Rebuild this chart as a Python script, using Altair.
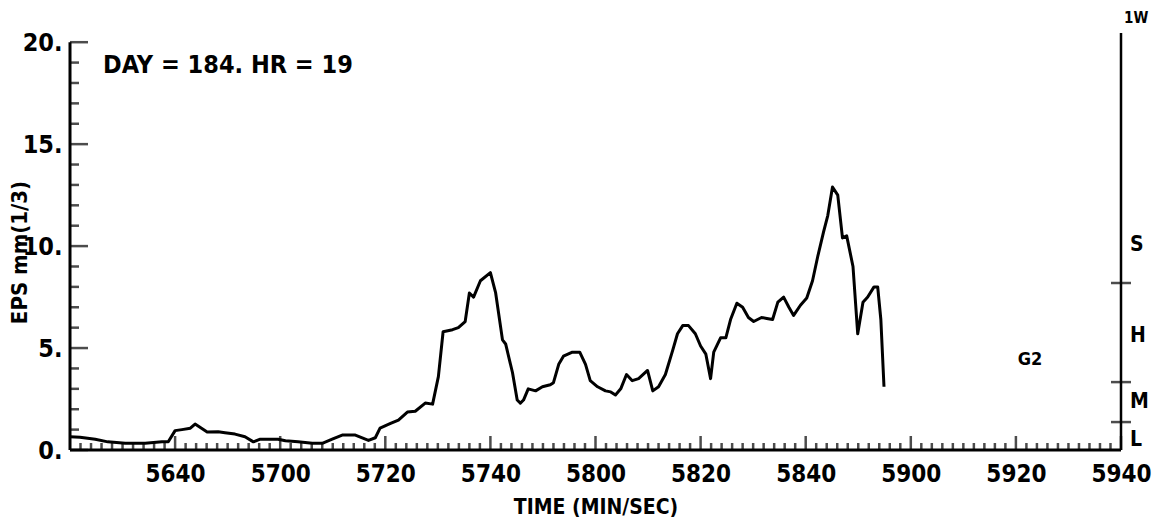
import altair as alt
import pandas as pd

# Time in seconds of the hour (56:20 -> 3380 s), EPS values
time_s = [3380.0, 3381.9, 3384.8, 3387.2, 3390.5, 3394.3, 3397.5, 3398.7, 3400.0, 3401.3,
          3402.9, 3403.8, 3406.1, 3408.2, 3409.5, 3411.4, 3413.3, 3414.9, 3416.2, 3419.6,
          3421.0, 3423.4, 3426.1, 3428.0, 3429.9, 3431.8, 3434.3, 3436.8, 3438.1, 3439.0,
          3441.0, 3442.5, 3444.2, 3445.7, 3447.6, 3449.0, 3450.1, 3451.0, 3452.8, 3453.9,
          3455.2, 3456.0, 3456.8, 3458.1, 3460.0, 3461.0, 3462.3, 3462.9, 3464.2, 3465.1,
          3465.7, 3466.3, 3467.2, 3468.6, 3469.9, 3471.4, 3472.0, 3473.0, 3473.9, 3475.6,
          3477.0, 3478.1, 3479.0, 3480.4, 3481.9, 3482.9, 3483.8, 3484.8, 3485.9, 3487.0,
          3488.2, 3489.9, 3490.9, 3492.0, 3493.3, 3494.7, 3495.6, 3496.6, 3497.7, 3499.0,
          3500.0, 3501.0, 3501.9, 3502.5, 3503.8, 3504.8, 3505.7, 3506.9, 3508.0, 3509.1,
          3510.1, 3511.6, 3512.6, 3513.7, 3514.7, 3515.8, 3516.8, 3517.7, 3519.0, 3520.2,
          3521.3, 3522.3, 3523.4, 3524.2, 3525.1, 3526.1, 3527.0, 3527.8, 3529.0, 3529.9,
          3530.9, 3531.8, 3533.0, 3533.7, 3534.3, 3534.9]
eps = [0.65, 0.63, 0.53, 0.40, 0.33, 0.33, 0.40, 0.40, 0.95, 1.00,
       1.07, 1.27, 0.88, 0.90, 0.85, 0.78, 0.65, 0.40, 0.53, 0.53,
       0.45, 0.40, 0.33, 0.33, 0.53, 0.73, 0.73, 0.47, 0.60, 1.07,
       1.30, 1.47, 1.86, 1.90, 2.30, 2.25, 3.60, 5.80, 5.90, 6.00,
       6.30, 7.70, 7.50, 8.30, 8.70, 7.70, 5.40, 5.20, 3.80, 2.45,
       2.30, 2.45, 3.00, 2.90, 3.10, 3.20, 3.30, 4.20, 4.60, 4.80,
       4.80, 4.20, 3.40, 3.10, 2.90, 2.85, 2.70, 3.00, 3.70, 3.40,
       3.50, 3.90, 2.90, 3.10, 3.70, 4.90, 5.70, 6.10, 6.10, 5.70,
       5.10, 4.70, 3.50, 4.80, 5.50, 5.50, 6.40, 7.20, 7.00, 6.50,
       6.30, 6.50, 6.45, 6.40, 7.25, 7.50, 7.00, 6.60, 7.10, 7.45,
       8.30, 9.50, 10.70, 11.50, 12.90, 12.50, 10.40, 10.50, 9.00, 5.70,
       7.25, 7.50, 8.00, 8.00, 6.40, 3.10]

x_start, x_end = 3380, 3580
x_major = list(range(3400, 3581, 20))
x_minor = [t for t in range(3382, 3580, 2) if (t - 3380) % 20 != 0]
y_major = [0, 5, 10, 15, 20]
y_minor = [v for v in range(1, 20) if v % 5 != 0]

class_ticks = [1.37, 3.33, 8.19]
class_labels = ["L", "M", "H", "S", "1W"]
class_label_y = [0.5, 2.35, 5.6, 10.05, 21.2]
right_top = 20.45

header_text = ["DAY = 184. HR = 19"]
header_pos = [3386.3, 18.9]
tag_text = ["G2"]
tag_pos = [3562.7, 4.4]

FONT = "'DejaVu Sans Condensed', 'DejaVu Sans', sans-serif"
K = "black"

xs = alt.Scale(domain=[x_start, x_end], nice=False, zero=False)
ys = alt.Scale(domain=[0, 20.5], nice=False)

df = pd.DataFrame({"t": time_s, "eps": eps})
one = pd.DataFrame({"a": [0]})

line = alt.Chart(df).mark_line(color=K, strokeWidth=3, strokeJoin="round").encode(
    x=alt.X("t:Q", scale=xs,
            axis=alt.Axis(values=x_major, ticks=False, domain=False, grid=False,
                          labelExpr="floor(datum.value/60) + '' + (datum.value % 60 < 10 ? '0' : '') + (datum.value % 60)",
                          labelFont=FONT, labelFontSize=24, labelFontWeight="bold", labelColor=K,
                          labelPadding=12, labelFlush=False,
                          title="TIME (MIN/SEC)", titleFont=FONT, titleFontSize=21,
                          titleFontWeight="bold", titleColor=K, titleY=57, titleBaseline="middle")),
    y=alt.Y("eps:Q", scale=ys,
            axis=alt.Axis(values=y_major, ticks=False, domain=False, grid=False,
                          labelExpr="datum.value + '.'",
                          labelFont=FONT, labelFontSize=25, labelFontWeight="bold", labelColor=K,
                          labelPadding=8,
                          title="EPS mm(1/3)", titleFont=FONT, titleFontSize=22,
                          titleFontWeight="bold", titleColor=K, titleX=-51, titleY=220,
                          titleAngle=-90, titleAlign="center", titleBaseline="middle")),
)

left_line = alt.Chart(one).mark_rule(color=K, strokeWidth=3).encode(
    x=alt.datum(x_start, scale=xs), y=alt.datum(0, scale=ys), y2=alt.datum(20))
bottom_line = alt.Chart(one).mark_rule(color=K, strokeWidth=3).encode(
    x=alt.datum(x_start, scale=xs), x2=alt.datum(x_end), y=alt.datum(0, scale=ys))
right_line = alt.Chart(one).mark_rule(color=K, strokeWidth=2.5).encode(
    x=alt.datum(x_end, scale=xs), y=alt.datum(0, scale=ys), y2=alt.datum(right_top))

ymaj = alt.Chart(pd.DataFrame({"v": y_major})).mark_tick(
    orient="horizontal", size=18, thickness=2.5, xOffset=9, color=K).encode(
    x=alt.datum(x_start, scale=xs), y=alt.Y("v:Q", scale=ys))
ymin = alt.Chart(pd.DataFrame({"v": y_minor})).mark_tick(
    orient="horizontal", size=9, thickness=2.5, xOffset=4.5, color=K).encode(
    x=alt.datum(x_start, scale=xs), y=alt.Y("v:Q", scale=ys))
xmaj = alt.Chart(pd.DataFrame({"t": x_major})).mark_tick(
    orient="vertical", size=14, thickness=2.5, yOffset=-7, color=K).encode(
    x=alt.X("t:Q", scale=xs), y=alt.datum(0, scale=ys))
xmin = alt.Chart(pd.DataFrame({"t": x_minor})).mark_tick(
    orient="vertical", size=7, thickness=2.5, yOffset=-3.5, color=K).encode(
    x=alt.X("t:Q", scale=xs), y=alt.datum(0, scale=ys))

rticks = alt.Chart(pd.DataFrame({"v": class_ticks})).mark_tick(
    orient="horizontal", size=20, thickness=2.5, color=K).encode(
    x=alt.datum(x_end, scale=xs), y=alt.Y("v:Q", scale=ys))
rlabels = alt.Chart(pd.DataFrame({"lab": class_labels[:4], "v": class_label_y[:4]})).mark_text(
    align="left", baseline="middle", dx=9, font=FONT, fontSize=21, fontWeight="bold", color=K).encode(
    x=alt.datum(x_end, scale=xs), y=alt.Y("v:Q", scale=ys), text="lab:N")
rtop = alt.Chart(pd.DataFrame({"lab": class_labels[4:], "v": class_label_y[4:]})).mark_text(
    align="left", baseline="middle", dx=3, font=FONT, fontSize=15, fontWeight="bold", color=K).encode(
    x=alt.datum(x_end, scale=xs), y=alt.Y("v:Q", scale=ys), text="lab:N")

header = alt.Chart(pd.DataFrame({"txt": header_text, "t": [header_pos[0]], "v": [header_pos[1]]})).mark_text(
    align="left", baseline="middle", font=FONT, fontSize=25, fontWeight="bold", color=K).encode(
    x=alt.X("t:Q", scale=xs), y=alt.Y("v:Q", scale=ys), text="txt:N")
tag = alt.Chart(pd.DataFrame({"txt": tag_text, "t": [tag_pos[0]], "v": [tag_pos[1]]})).mark_text(
    align="center", baseline="middle", font=FONT, fontSize=18, fontWeight="bold", color=K).encode(
    x=alt.X("t:Q", scale=xs), y=alt.Y("v:Q", scale=ys), text="txt:N")

chart = alt.layer(line, left_line, bottom_line, right_line, ymaj, ymin, xmaj, xmin,
                  rticks, rlabels, rtop, header, tag).properties(
    width=1051, height=418,
    autosize=alt.AutoSizeParams(type="none"),
    padding={"left": 62, "top": 24, "right": 43, "bottom": 71},
    background="white",
).configure_view(stroke=None)

chart.save("out.html", embed_options={"renderer": "svg", "actions": False})
